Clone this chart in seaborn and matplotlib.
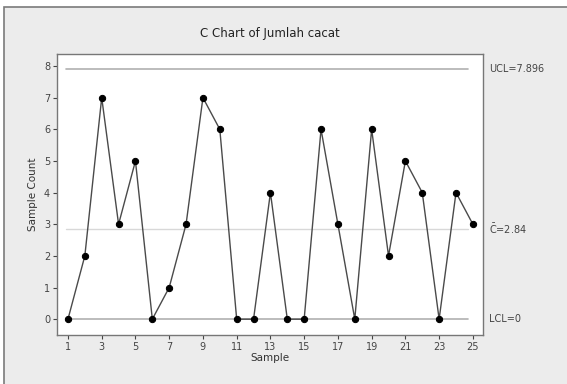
import matplotlib
matplotlib.use("Agg")
import matplotlib.pyplot as plt
import seaborn as sns
import pandas as pd
from matplotlib.patches import Rectangle

samples = list(range(1, 26))
counts = [0, 2, 7, 3, 5, 0, 1, 3, 7, 6, 0, 0, 4, 0, 0, 6, 3, 0, 6, 2, 5, 4, 0, 4, 3]
ucl = 7.896
cbar = 2.84
lcl = 0
xticks = list(range(1, 26, 2))
yticks = list(range(0, 9))

df = pd.DataFrame({"Sample": samples, "Count": counts})

sns.set_theme(style="white")
plt.rcParams['font.family'] = ['DejaVu Sans']
plt.rcParams['mathtext.fontset'] = 'dejavusans'

fig = plt.figure(figsize=(5.67, 3.84), dpi=100)
fig.patch.set_facecolor("white")
frame = Rectangle((4/567, -0.1), 1.2, 1.1 - 7/384, transform=fig.transFigure,
                  facecolor="#ececec", edgecolor="#7a7a7a", linewidth=1.2, zorder=-10)
fig.patches.append(frame)

ax = fig.add_axes([57/567, 1 - 335/384, (483 - 57)/567, (335 - 54)/384])
ax.set_zorder(5)
ax.set_facecolor("white")

ax.axhline(ucl, xmin=0.02, xmax=0.965, color="#b0b0b0", lw=1.2, zorder=1)
ax.axhline(lcl, xmin=0.02, xmax=0.965, color="#b0b0b0", lw=1.2, zorder=1)
ax.axhline(cbar, xmin=0.02, xmax=0.965, color="#d8d8d8", lw=1.0, zorder=1)

sns.lineplot(data=df, x="Sample", y="Count", ax=ax, color="#4a4a4a", lw=1.0,
             marker="o", markersize=4.5, markerfacecolor="black", markeredgecolor="black", zorder=3)

ax.set_xlim(0.35, 25.6)
ax.set_ylim(-0.5, 8.38)
ax.set_xticks(xticks)
ax.set_yticks(yticks)
ax.tick_params(axis="both", labelsize=7, colors="#444444", length=3, width=0.8, direction="out",
               bottom=True, left=True, pad=2)
for s in ax.spines.values():
    s.set_color("#777777")
    s.set_linewidth(1.0)
ax.set_xlabel("Sample", fontsize=7.5, color="#333333", labelpad=1)
ax.set_ylabel("Sample Count", fontsize=7.5, color="#333333", labelpad=4)
ax.set_title("C Chart of Jumlah cacat", fontsize=8.5, color="#222222", pad=12)

ax.text(1.015, ucl, "UCL=7.896", transform=ax.get_yaxis_transform(), fontsize=7, color="#444444", va="center")
ax.text(1.015, cbar, r"$\bar{\mathrm{C}}$=2.84", transform=ax.get_yaxis_transform(), fontsize=7, color="#444444", va="center")
ax.text(1.015, lcl, "LCL=0", transform=ax.get_yaxis_transform(), fontsize=7, color="#444444", va="center")

fig.savefig("out.png", dpi=100)
